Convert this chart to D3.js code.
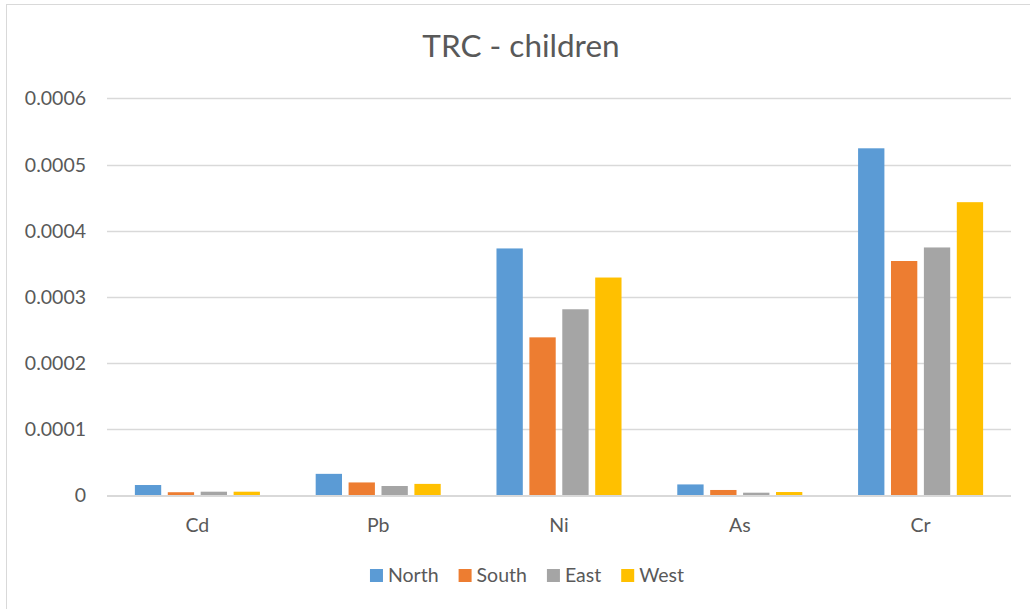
<!DOCTYPE html>
<html>
<head>
<meta charset="utf-8">
<script src="https://cdn.jsdelivr.net/npm/d3@7"></script>
<style>
  html, body { margin: 0; padding: 0; background: #fff; }
  svg { display: block; font-family: Lato, "Open Sans", "Liberation Sans", sans-serif; }
</style>
</head>
<body>
<svg id="chart" width="1030" height="609"></svg>
<script>
// Metals and regions
const categories = ["Cd", "Pb", "Ni", "As", "Cr"];
const seriesNames = ["North", "South", "East", "West"];
const seriesColors = ["#5b9bd5", "#ed7d31", "#a5a5a5", "#ffc000"];

// TRC values per region, one entry per metal
const north = [0.0000151, 0.0000320, 0.000373, 0.0000160, 0.0005245];
const south = [0.0000042, 0.0000190, 0.0002385, 0.0000076, 0.000354];
const east  = [0.0000050, 0.0000136, 0.000281, 0.0000035, 0.0003745];
const west  = [0.0000050, 0.0000168, 0.000329, 0.0000045, 0.000443];

const yTicks = [0, 0.0001, 0.0002, 0.0003, 0.0004, 0.0005, 0.0006];
const yTickLabels = ["0", "0.0001", "0.0002", "0.0003", "0.0004", "0.0005", "0.0006"];

const seriesValues = [north, south, east, west];
const rows = categories.map((c, i) => ({
  cat: c,
  vals: seriesNames.map((s, j) => ({ key: s, value: seriesValues[j][i], color: seriesColors[j] }))
}));

const svg = d3.select("#chart");
const textColor = "#595959";
const gridColor = "#d9d9d9";
const labelSize = 19.5;

// Outer chart frame
svg.append("rect")
  .attr("x", 6.5).attr("y", 4.5)
  .attr("width", 1040).attr("height", 620)
  .attr("fill", "none").attr("stroke", gridColor).attr("stroke-width", 1);

const plot = { left: 107, right: 1011, top: 98.4, bottom: 495 };

const x0 = d3.scaleBand().domain(categories)
  .range([plot.left, plot.right]).paddingInner(0.272).paddingOuter(0.136);
const x1 = d3.scaleBand().domain(seriesNames)
  .range([0, x0.bandwidth()]).paddingInner(0.2).paddingOuter(0.1);
const y = d3.scaleLinear().domain([0, 0.0006]).range([plot.bottom, plot.top]);

// Horizontal gridlines
svg.append("g").selectAll("line")
  .data(yTicks.slice(1))
  .join("line")
  .attr("x1", plot.left).attr("x2", plot.right)
  .attr("y1", d => Math.round(y(d)) + 0.5).attr("y2", d => Math.round(y(d)) + 0.5)
  .attr("stroke", gridColor).attr("stroke-width", 1.3);

// Y tick labels
svg.append("g").selectAll("text")
  .data(yTicks)
  .join("text")
  .attr("x", plot.left - 21)
  .attr("y", d => y(d))
  .attr("dy", "0.36em")
  .attr("text-anchor", "end")
  .attr("fill", textColor)
  .attr("font-size", labelSize)
  .text((d, i) => yTickLabels[i]);

// Bars
const groups = svg.append("g").selectAll("g")
  .data(rows)
  .join("g")
  .attr("transform", d => `translate(${x0(d.cat)},0)`);

groups.selectAll("rect")
  .data(d => d.vals)
  .join("rect")
  .attr("x", d => x1(d.key))
  .attr("width", x1.bandwidth())
  .attr("y", d => y(d.value))
  .attr("height", d => y(0) - y(d.value))
  .attr("fill", d => d.color);

// Baseline
svg.append("line")
  .attr("x1", plot.left).attr("x2", plot.right)
  .attr("y1", plot.bottom + 1).attr("y2", plot.bottom + 1)
  .attr("stroke", gridColor).attr("stroke-width", 2);

// Category labels
svg.append("g").selectAll("text")
  .data(categories)
  .join("text")
  .attr("x", d => x0(d) + x0.bandwidth() / 2)
  .attr("y", 532)
  .attr("text-anchor", "middle")
  .attr("fill", textColor)
  .attr("font-size", labelSize)
  .text(d => d);

// Title
svg.append("text")
  .attr("x", 521).attr("y", 57)
  .attr("text-anchor", "middle")
  .attr("fill", textColor)
  .attr("font-size", 31.5)
  .text("TRC - children");

// Legend
const legend = svg.append("g");
const items = legend.selectAll("g")
  .data(seriesNames)
  .join("g");
items.append("rect")
  .attr("width", 13).attr("height", 13)
  .attr("y", 569)
  .attr("fill", (d, i) => seriesColors[i]);
items.append("text")
  .attr("x", 18).attr("y", 582)
  .attr("fill", textColor)
  .attr("font-size", labelSize)
  .text(d => d);
const widths = [];
items.each(function () {
  const w = 18 + d3.select(this).select("text").node().getComputedTextLength();
  widths.push(w);
});
const gap = 20;
const total = d3.sum(widths) + gap * (widths.length - 1);
let cursor = 527 - total / 2;
items.each(function (d, i) {
  d3.select(this).attr("transform", `translate(${cursor},0)`);
  cursor += widths[i] + gap;
});
</script>
</body>
</html>
